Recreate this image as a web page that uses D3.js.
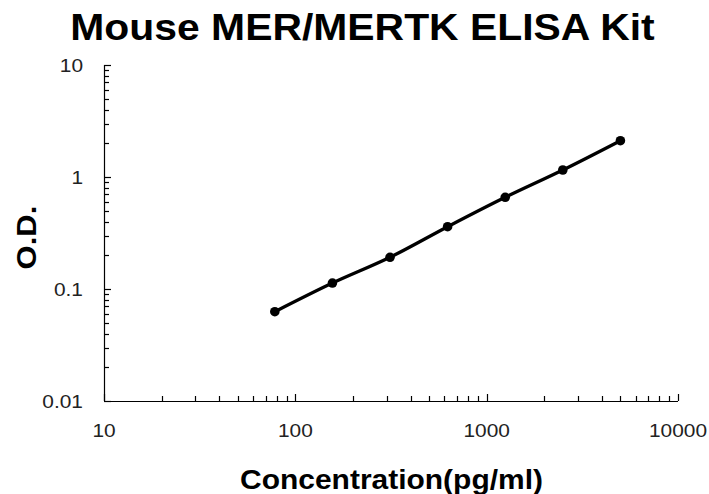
<!DOCTYPE html>
<html>
<head>
<meta charset="utf-8">
<script src="https://cdn.jsdelivr.net/npm/d3@7"></script>
<style>
  html, body { margin: 0; padding: 0; background: #fff; }
  svg { display: block; }
</style>
</head>
<body>
<svg id="chart" width="709" height="494"></svg>
<script>
const concentrations = [78.125, 156.25, 312.5, 625, 1250, 2500, 5000];
const odValues = [0.0627, 0.113, 0.192, 0.360, 0.659, 1.155, 2.11];
const xTickValues = [10, 100, 1000, 10000];
const yTickValues = [0.01, 0.1, 1, 10];
const yTickLabels = ["0.01", "0.1", "1", "10"];
const titleText = "Mouse MER/MERTK ELISA Kit";
const xLabelText = "Concentration(pg/ml)";
const yLabelText = "O.D.";

(function () {
const svg = d3.select("#chart");
const pLeft = 104, pRight = 678, pTop = 65, pBottom = 401;

const x = d3.scaleLog().domain([10, 10000]).range([pLeft, pRight]);
const y = d3.scaleLog().domain([0.01, 10]).range([pBottom, pTop]);

const font = "'Liberation Sans', Arial, sans-serif";
const tickScale = 1.13;

function minorTicks(domainLo, domainHi) {
  const out = [];
  for (let d = domainLo; d < domainHi; d *= 10) {
    for (let k = 2; k <= 9; k++) out.push(d * k);
  }
  return out;
}

const axisG = svg.append("g").attr("stroke", "#000").attr("stroke-width", 1.2);

axisG.append("line").attr("x1", x(10)).attr("x2", x(10000)).attr("y1", pBottom + 0.5).attr("y2", pBottom + 0.5);
axisG.append("line").attr("x1", pLeft + 0.5).attr("x2", pLeft + 0.5).attr("y1", y(10)).attr("y2", y(0.01));

axisG.selectAll(".xminor").data(minorTicks(10, 10000)).join("line")
  .attr("x1", d => Math.round(x(d)) + 0.5).attr("x2", d => Math.round(x(d)) + 0.5)
  .attr("y1", pBottom).attr("y2", pBottom - 5);
axisG.selectAll(".xmajor").data(xTickValues).join("line")
  .attr("x1", d => Math.round(x(d)) + 0.5).attr("x2", d => Math.round(x(d)) + 0.5)
  .attr("y1", pBottom).attr("y2", pBottom - 7);

axisG.selectAll(".yminor").data(minorTicks(0.01, 10)).join("line")
  .attr("y1", d => Math.round(y(d)) + 0.5).attr("y2", d => Math.round(y(d)) + 0.5)
  .attr("x1", pLeft).attr("x2", pLeft + 5);
axisG.selectAll(".ymajor").data(yTickValues).join("line")
  .attr("y1", d => Math.round(y(d)) + 0.5).attr("y2", d => Math.round(y(d)) + 0.5)
  .attr("x1", pLeft).attr("x2", pLeft + 7);

svg.append("g").selectAll("text").data(xTickValues).join("text")
  .attr("transform", d => `translate(${x(d)},437) scale(${tickScale},1)`)
  .attr("text-anchor", "middle")
  .attr("font-family", font).attr("font-size", 18.5).attr("fill", "#222")
  .text(d => String(d));

svg.append("g").selectAll("text").data(yTickValues).join("text")
  .attr("transform", d => `translate(83,${y(d) + 6.5}) scale(${tickScale},1)`)
  .attr("text-anchor", "end")
  .attr("font-family", font).attr("font-size", 18.5).attr("fill", "#222")
  .text((d, i) => yTickLabels[i]);

const pts = concentrations.map((c, i) => [c, odValues[i]]);
const line = d3.line().x(d => x(d[0])).y(d => y(d[1])).curve(d3.curveCatmullRom.alpha(0.5));
svg.append("path").datum(pts).attr("d", line)
  .attr("fill", "none").attr("stroke", "#000").attr("stroke-width", 3.3)
  .attr("stroke-linecap", "round");

svg.append("g").selectAll("circle").data(pts).join("circle")
  .attr("cx", d => x(d[0])).attr("cy", d => y(d[1])).attr("r", 4.8).attr("fill", "#000");

svg.append("text")
  .attr("transform", "translate(362.5,40) scale(1.12,1)")
  .attr("text-anchor", "middle")
  .attr("font-family", font)
  .attr("font-weight", "bold").attr("font-size", 36.5)
  .text(titleText);

svg.append("text")
  .attr("transform", "translate(391.5,488.5) scale(1.11,1)")
  .attr("text-anchor", "middle")
  .attr("font-family", font)
  .attr("font-weight", "bold").attr("font-size", 27)
  .text(xLabelText);

svg.append("text")
  .attr("transform", "translate(35.5,237.5) rotate(-90) scale(1.15,1)")
  .attr("text-anchor", "middle")
  .attr("font-family", font)
  .attr("font-weight", "bold").attr("font-size", 27)
  .text(yLabelText);
})();
</script>
</body>
</html>
